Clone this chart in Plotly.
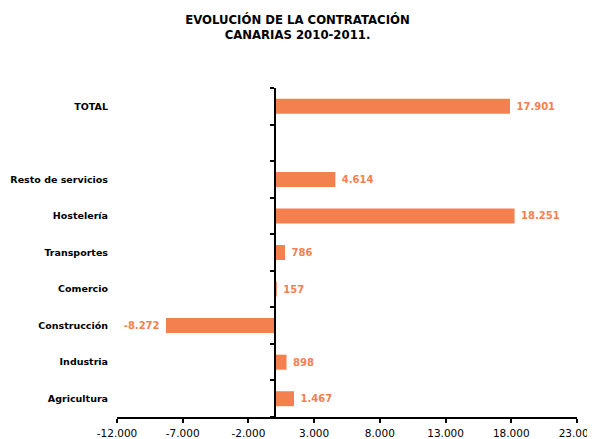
import plotly.graph_objects as go

categories = ["Agricultura", "Industria", "Construcción", "Comercio", "Transportes",
              "Hostelería", "Resto de servicios", " ", "TOTAL"]
values = [1467, 898, -8272, 157, 786, 18251, 4614, None, 17901]
tick_values = [-12000, -7000, -2000, 3000, 8000, 13000, 18000, 23000]


def fmt(v):
    if v is None:
        return ""
    s = f"{abs(v):,}".replace(",", ".")
    return ("-" if v < 0 else "") + s


NB = "\u00a0"
value_labels = []
for v in values:
    if v is None:
        value_labels.append("")
    elif v < 0:
        value_labels.append(fmt(v) + NB)
    else:
        value_labels.append(NB + fmt(v))
tick_labels = [fmt(v) for v in tick_values]

BAR = "#F5804F"
FONT = "DejaVu Sans"
W, H = 587, 431

fig = go.Figure()
fig.add_trace(go.Bar(
    x=values, y=categories, orientation="h",
    marker=dict(color=BAR, line=dict(width=0)),
    width=0.41,
    text=value_labels, textposition="outside",
    textfont=dict(family=FONT, size=10, color=BAR, weight="bold"),
    cliponaxis=False, showlegend=False, hoverinfo="skip",
))
fig.add_trace(go.Scatter(
    x=[0] * len(categories), y=categories, yaxis="y2", mode="none",
    showlegend=False, hoverinfo="skip",
))

fig.update_layout(
    width=W, height=H,
    margin=dict(l=109, r=18, t=80, b=22, autoexpand=False),
    paper_bgcolor="white", plot_bgcolor="white",
    font=dict(family=FONT, color="black"),
    title=dict(
        text="EVOLUCIÓN DE LA CONTRATACIÓN<br>CANARIAS 2010-2011.",
        font=dict(family=FONT, size=11.7, color="black", weight="bold"),
        x=(297.5 - 8) / W, xref="container", xanchor="center",
        y=1 - 15.6 / H, yref="container", yanchor="top",
    ),
    xaxis=dict(
        range=[-12000, 23000], tickvals=tick_values, ticktext=tick_labels,
        showgrid=False, zeroline=False, automargin=False,
        showline=True, linecolor="black", linewidth=2,
        ticks="outside", ticklen=4, tickcolor="black", tickwidth=2,
        ticklabeloverflow="allow", ticklabelstandoff=1,
        tickfont=dict(family=FONT, size=10.5, color="black"),
    ),
    yaxis=dict(
        type="category", categoryorder="array", categoryarray=categories,
        range=[-0.5, 8.5], showgrid=False, zeroline=False, showline=False,
        ticks="", ticklabelstandoff=8, automargin=False,
        tickfont=dict(family=FONT, size=9.5, color="black", weight="bold"),
    ),
    yaxis2=dict(
        type="category", categoryorder="array", categoryarray=categories,
        range=[-0.5, 8.5], overlaying="y", anchor="free",
        position=12000 / 35000, side="left", automargin=False,
        showgrid=False, zeroline=False, showticklabels=False,
        showline=True, linecolor="black", linewidth=2,
        ticks="outside", tickson="boundaries", ticklen=4,
        tickcolor="black", tickwidth=2,
    ),
)

fig.write_html("out.html")
